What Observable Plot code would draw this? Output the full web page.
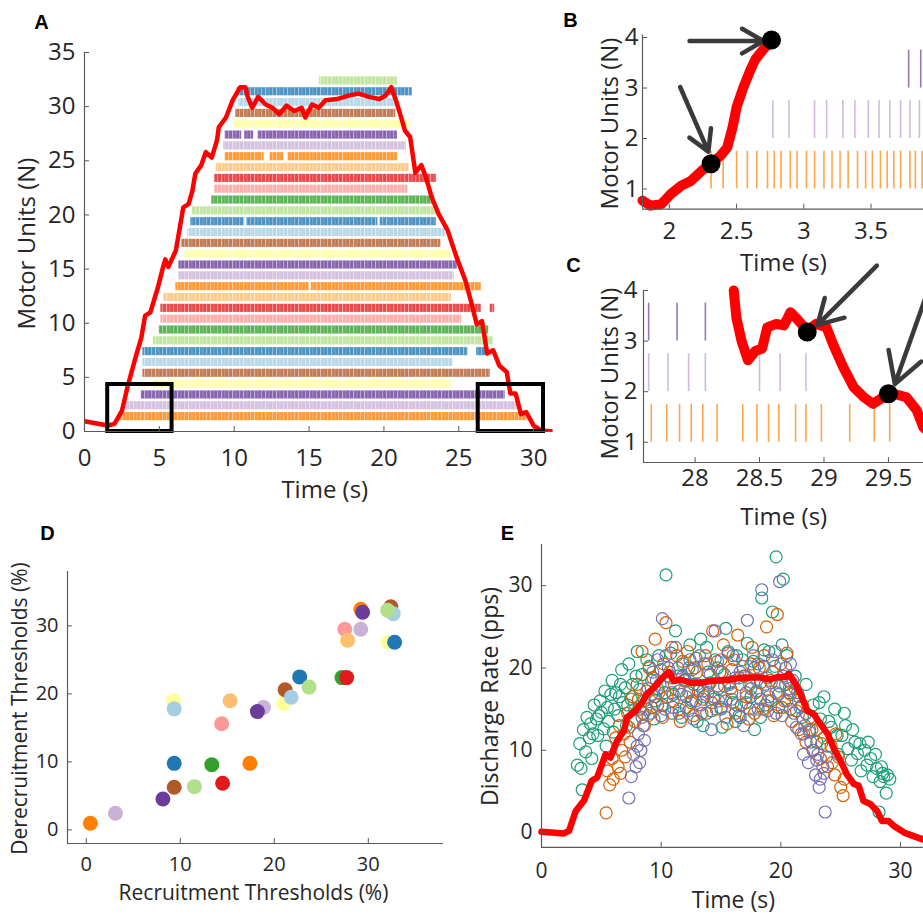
<!DOCTYPE html>
<html><head><meta charset="utf-8">
<script src="https://cdn.jsdelivr.net/npm/d3@7"></script>
<script src="https://cdn.jsdelivr.net/npm/@observablehq/plot@0.6"></script>
<style>
html,body{margin:0;padding:0;background:#fff;}
#fig{position:relative;width:923px;height:915px;overflow:hidden;background:#fff;}
.panel{position:absolute;}
.panel svg{max-width:none !important;}
</style></head><body><div id="fig"></div><script>
// ---------- DATA ----------
const paired = ["#a6cee3","#1f78b4","#b2df8a","#33a02c","#fb9a99","#e31a1c","#fdbf6f","#ff7f00","#cab2d6","#6a3d9a","#ffff99","#b15928"];
// Panel A: motor unit firing spans [unit, start (s), end (s)]
const rasterSegments = [
  [1,2.3,29.55],[2,2.78,28.9],[3,3.8,28.1],[4,4.6,24.5],[5,3.9,27.1],[6,3.9,24.6],
  [7,3.9,25.6],[7,26.2,26.8],[8,4.6,27.3],[9,5.0,27.0],[10,5.1,25.2],[11,5.1,26.5],[11,27.1,27.4],
  [12,5.3,24.5],[13,6.1,15.0],[13,15.15,26.5],[14,6.3,24.7],[15,6.3,24.9],[16,6.7,24.5],
  [17,6.5,23.8],[18,6.9,24.1],[19,7.1,10.7],[19,10.85,19.6],[19,19.75,23.5],[20,7.2,23.5],
  [21,8.5,23.4],[22,8.7,21.6],[23,8.7,23.5],[24,8.8,21.7],[25,9.4,12.0],[25,12.4,13.3],[25,13.6,20.9],
  [26,9.3,21.5],[27,9.4,10.5],[27,10.7,11.3],[27,11.6,20.9],[28,10.0,21.8],[29,10.1,20.8],
  [30,10.3,20.9],[31,10.2,21.9],[32,15.7,20.9]
];
const forceT = [0,1.55,2.0,2.5,2.87,3.35,3.8,4.05,4.4,4.9,5.25,5.4,5.6,6.1,6.45,6.6,6.95,7.2,7.4,7.8,8.1,8.5,8.85,8.97,9.45,9.9,10.4,10.75,10.9,11.2,11.6,12.1,12.55,13.0,13.5,14.0,14.5,14.75,15.2,15.65,16.1,16.85,17.6,18.3,19.0,19.7,20.1,20.5,20.8,21.15,21.4,21.75,22.1,22.5,22.8,23.2,23.65,24.25,24.85,25.45,25.8,26.2,26.55,26.9,27.3,27.7,28.2,28.45,28.8,29.15,29.5,30.0,30.5,31.3];
const forceN = [0.95,0.55,0.7,1.9,4.1,6.55,8.7,10.7,11.0,13.3,15.2,15.9,15.2,16.7,19.5,20.7,21.0,22.2,23.8,24.6,25.8,25.3,26.9,28.1,29.0,30.6,31.8,31.8,30.9,29.9,30.9,30.2,29.9,29.3,30.1,29.6,29.9,29.0,30.2,29.9,30.6,30.7,31.0,31.2,30.9,30.7,31.0,31.8,30.6,29.0,27.8,27.2,23.9,24.6,23.5,21.6,20.1,18.6,16.1,13.9,12.1,9.9,10.2,7.2,7.5,6.1,5.5,3.5,3.5,1.6,1.8,0.55,0.1,0];
const zoomBoxes = [[1.55,5.85,0,4.34],[26.3,30.66,0,4.34]];
const aXTicks = [0,5,10,15,20,25,30];
const aYTicks = [0,5,10,15,20,25,30,35];

// Panel B
const bForceT = [1.80,1.86,1.94,2.01,2.09,2.16,2.24,2.31,2.38,2.43,2.47,2.50,2.55,2.60,2.64,2.71,2.76];
const bForceN = [0.77,0.67,0.70,0.90,1.07,1.16,1.36,1.50,1.66,1.82,2.22,2.62,3.01,3.34,3.57,3.80,3.90];
const bSpikes1 = [2.31,2.40,2.50,2.58,2.65,2.73,2.78,2.83,2.90,2.95,3.02,3.08,3.15,3.21,3.27,3.33,3.40,3.46,3.51,3.57,3.62,3.67,3.72,3.79,3.83,3.88];
const bSpikes2 = [2.77,2.89,3.08,3.17,3.29,3.38,3.48,3.56,3.64,3.72,3.79,3.86];
const bSpikes3 = [3.78,3.87];
const bDots = [[2.31,1.5],[2.76,3.95]];
const bArrows = [[2.08,3.02,2.29,1.74],[2.15,3.93,2.70,3.93]];
const bXTicks = [2,2.5,3,3.5];
const bYTicks = [1,2,3,4];

// Panel C
const cForceT = [28.30,28.32,28.36,28.41,28.47,28.52,28.56,28.63,28.69,28.74,28.79,28.87,28.94,29.02,29.07,29.15,29.23,29.31,29.38,29.46,29.54,29.64,29.72,29.77,29.85];
const cForceN = [4.0,3.47,3.01,2.62,2.81,2.85,3.27,3.34,3.31,3.57,3.44,3.21,3.34,3.27,2.94,2.48,2.09,1.89,1.76,1.89,1.96,1.89,1.63,1.30,1.1];
const cSpikes1 = [27.66,27.78,27.88,27.97,28.06,28.17,28.37,28.48,28.57,28.65,28.78,28.86,28.98,29.20,29.39,29.51];
const cSpikes2 = [27.64,27.79,27.95,28.08,28.50,28.66,28.86];
const cSpikes3 = [27.64,27.86,28.08];
const cDots = [[28.87,3.18],[29.50,1.96]];
const cArrows = [[29.41,4.49,28.95,3.32],[29.82,4.09,29.55,2.15]];
const cXTicks = [28,28.5,29,29.5];
const cYTicks = [1,2,3,4];

// Panel D: recruitment vs derecruitment thresholds (%), unit id gives colour
const dUnit      = [1,2,3,4,5,6,7,8,9,10,11,12,13,14,15,16,17,18,19,20,21,22,23,24,25,26,27,28,29,30,31,32];
const dRecruit   = [0.43,3.1,8.15,9.28,9.35,9.35,9.35,11.5,13.35,14.4,14.5,15.3,17.4,18.85,18.2,21.0,21.15,21.8,22.7,23.7,27.2,27.5,27.7,27.8,29.2,29.2,29.4,32.1,32.4,32.65,32.8,32.05];
const dDerecruit = [0.98,2.45,4.55,19.0,6.27,17.8,9.79,6.36,9.59,15.6,6.85,19.0,9.79,18.0,17.4,18.6,20.6,19.5,22.5,21.0,22.4,29.5,22.4,27.9,32.45,29.5,32.0,27.6,32.8,31.8,27.6,32.3];
const dTicks = [0,10,20,30];

// Panel E: discharge rates (pps) of three units [time s, rate pps] and mean trace
const eGreen = [[3.0,8.2],[3.2,10.8],[3.4,5.2],[3.5,12.5],[3.7,9.8],[3.8,14.0],[4.0,11.5],[4.1,13.2],[4.3,12.0],[4.4,15.5],[4.6,13.8],[4.7,11.8],[4.9,16.0],[5.0,14.6],[5.2,12.6],[5.3,17.2],[5.5,15.2],[5.6,13.5],[5.8,16.8],[5.9,18.5],[6.1,15.0],[6.2,17.0],[6.4,14.2],[6.5,16.5],[6.7,19.8],[6.8,15.8],[7.0,17.6],[7.1,13.0],[7.3,20.5],[7.5,16.2],[7.6,18.0],[7.8,15.0],[8.0,22.0],[8.2,17.4],[8.4,19.2],[8.6,16.0],[8.8,21.0],
  [3.3,7.8],[4.2,9.0],[4.8,14.2],[5.4,10.5],[6.0,12.2],[6.6,18.0],[7.2,15.5],[7.9,19.0],[8.5,14.5],
  [9.2,18.5],[9.5,16.0],[9.8,21.5],[10.1,15.5],[10.4,31.3],[10.6,19.0],[10.9,14.5],[11.2,24.5],[11.5,17.2],[11.8,20.5],[12.1,15.2],[12.4,22.8],[12.7,18.0],[13.0,13.5],[13.3,23.5],[13.6,16.5],[13.9,19.5],[14.2,14.8],[14.5,21.0],[14.8,17.5],[15.1,12.8],[15.4,24.8],[15.7,18.2],[16.0,15.8],[16.3,21.5],[16.6,14.0],[16.9,19.0],[17.2,23.0],[17.5,16.5],[17.8,12.5],[18.1,20.5],[18.4,28.5],[18.7,15.5],[19.0,22.0],[19.3,26.8],[19.6,33.5],[19.9,17.8],[20.2,30.8],[20.5,21.5],[20.8,15.0],
  [9.0,20.2],[9.4,13.8],[9.7,17.5],[10.0,19.8],[10.3,17.0],[10.8,21.8],[11.0,16.8],[11.4,19.0],[11.7,14.0],[12.0,18.6],[12.3,20.0],[12.6,16.0],[12.9,21.2],[13.2,17.8],[13.5,13.0],[13.8,22.5],[14.1,18.2],[14.4,16.2],[14.7,20.0],[15.0,15.0],[15.3,19.2],[15.6,22.0],[15.9,17.0],[16.2,13.5],[16.5,18.8],[16.8,21.0],[17.1,15.8],[17.4,18.0],[17.7,20.8],[18.0,17.2],[18.3,14.0],[18.6,22.2],[18.9,18.8],[19.2,16.0],[19.5,20.2],[19.8,15.2],[20.1,22.8],[20.4,18.0],[20.7,17.0],
  [21.2,19.0],[21.5,16.5],[21.8,14.0],[22.1,18.0],[22.4,12.5],[22.7,15.5],[23.0,11.0],[23.3,13.8],[23.6,16.5],[23.9,10.5],[24.2,12.8],[24.5,15.0],[24.8,9.5],[25.1,11.8],[25.4,13.0],[25.6,10.2],[25.9,8.8],[26.2,11.0],[26.4,9.6],[26.7,7.5],[27.0,10.0],[27.2,8.2],[27.5,9.0],[27.7,6.8],[28.0,7.8],[28.3,6.2],[28.5,7.2],[28.8,4.8],[28.2,2.5],[28.6,6.8],
  [23.2,15.8],[24.0,13.5],[24.7,11.8],[25.3,14.5],[26.0,12.5],[26.6,10.8],[27.3,11.0],[27.9,9.5],[28.4,8.0],[28.9,7.0],[29.1,6.5]];
const eOrange = [[5.4,2.4],[5.5,7.5],[5.7,5.8],[5.9,9.0],[6.0,6.5],[6.2,11.5],[6.4,8.0],[6.5,13.0],[6.7,10.0],[6.9,12.0],[7.0,9.2],[7.2,14.5],[7.4,11.0],[7.6,16.5],[7.8,13.5],[8.0,18.0],[8.2,15.0],[8.4,22.0],[8.6,13.0],[8.8,17.2],[9.0,20.0],[9.2,15.2],[9.5,23.5],[9.8,17.0],[10.1,14.0],[10.4,25.5],[10.7,19.5],[11.0,16.0],[11.3,21.5],[11.6,13.5],[11.9,18.5],[12.2,22.0],[12.5,15.8],[12.8,20.0],[13.1,17.2],[13.4,14.5],[13.7,21.5],[14.0,18.0],[14.3,24.5],[14.6,15.0],[14.9,19.5],[15.2,22.8],[15.5,13.2],[15.8,17.5],[16.1,21.0],[16.4,24.0],[16.7,15.5],[17.0,19.0],[17.3,13.8],[17.6,22.5],[17.9,17.0],[18.2,20.0],[18.5,15.0],[18.8,25.0],[19.1,18.5],[19.4,14.2],[19.7,26.5],[20.0,20.5],[20.3,16.0],[20.6,18.5],[20.9,13.5],[21.2,17.5],[21.5,12.5],[21.8,15.5],[22.1,11.0],[22.4,14.0],[22.7,10.0],[23.0,12.5],[23.3,9.0],[23.6,11.5],[23.9,8.0],[24.2,10.5],[24.5,7.0],[24.8,9.2],[25.0,5.5],[25.2,4.5],[24.6,12.0],
  [9.3,18.8],[9.7,15.5],[10.2,20.5],[10.5,16.5],[10.9,22.5],[11.1,18.0],[11.5,15.0],[11.8,20.8],[12.3,17.0],[12.7,14.2],[13.0,19.5],[13.5,16.2],[13.9,20.5],[14.2,15.8],[14.7,17.8],[15.0,21.0],[15.4,16.0],[15.9,19.8],[16.2,14.5],[16.6,18.0],[17.1,16.5],[17.5,20.5],[17.8,14.5],[18.3,18.2],[18.6,21.5],[18.9,16.0],[19.3,19.5],[19.6,17.0],[20.1,15.2],[20.5,21.8],[20.8,16.8],[21.3,14.8],[21.9,12.0],[22.6,12.5],[23.4,10.8],[24.3,8.5],[25.3,6.5],[6.6,7.2],[7.3,12.8],[8.1,16.2],[8.9,14.2]];
const ePurple = [[7.3,4.2],[7.5,6.8],[7.7,9.5],[7.9,8.0],[8.1,12.0],[8.3,10.0],[8.5,13.0],[8.2,8.5],[8.7,15.0],[8.9,17.5],[9.1,14.5],[9.3,19.5],[9.5,16.5],[9.7,21.0],[9.9,18.0],[10.1,26.0],[10.3,15.0],[10.6,20.0],[10.9,17.0],[11.2,22.5],[11.5,14.5],[11.8,19.0],[12.1,16.5],[12.4,21.0],[12.7,13.8],[13.0,18.0],[13.3,15.5],[13.6,20.5],[13.9,17.0],[14.2,12.5],[14.5,24.5],[14.8,16.0],[15.1,19.5],[15.4,14.0],[15.7,18.0],[16.0,21.5],[16.3,15.5],[16.6,19.5],[16.9,13.0],[17.2,25.8],[17.5,17.5],[17.8,20.0],[18.1,15.0],[18.4,29.5],[18.7,18.0],[19.0,16.5],[19.3,21.0],[19.6,14.5],[19.9,30.5],[20.2,19.0],[20.5,16.0],[20.8,20.5],[21.1,14.5],[21.4,17.0],[21.7,12.0],[21.9,9.5],[22.1,14.5],[22.3,8.5],[22.5,11.0],[22.7,10.0],[22.9,7.0],[23.1,9.5],[23.3,6.5],[23.5,8.0],[23.7,2.5],[23.2,5.5],[22.0,13.0],
  [9.2,16.8],[9.6,18.5],[10.0,14.2],[10.4,21.5],[10.8,18.8],[11.0,15.2],[11.4,20.0],[11.7,16.8],[12.0,18.5],[12.3,14.8],[12.6,19.8],[12.9,16.0],[13.2,21.5],[13.5,17.2],[13.8,14.5],[14.1,19.2],[14.4,16.5],[14.7,20.8],[15.0,15.2],[15.3,17.8],[15.6,21.8],[15.9,16.2],[16.2,18.8],[16.5,14.2],[16.8,20.2],[17.1,17.0],[17.4,15.0],[17.7,21.5],[18.0,18.5],[18.3,16.2],[18.6,20.2],[18.9,14.8],[19.2,18.2],[19.5,22.0],[19.8,16.8],[20.1,14.2],[20.4,20.0],[20.7,17.5],[21.0,18.5],[21.3,12.8],[21.6,15.2],[22.4,12.2],[23.0,8.8],[23.6,7.2],[8.0,10.5],[8.6,11.2],[8.4,14.0],[23.8,9.2]];
const eMeanT = [0,1.87,2.3,2.85,3.55,4.2,4.65,5.35,5.75,6.3,6.9,7.15,7.85,8.4,8.8,9.4,10.1,10.65,11.05,11.6,12.45,13.3,14.1,14.95,15.8,16.6,17.45,18.3,19.1,19.7,20.4,20.65,21.1,21.65,22.2,22.75,23.3,23.9,24.4,25.0,25.5,26.1,26.5,26.9,27.5,28.05,28.45,29.0,29.45,30.3,31.9];
const eMeanV = [0.1,-0.1,0.2,2.6,3.9,6.3,6.7,9.5,9.1,11.1,12.4,14.0,14.8,15.8,16.8,17.6,18.8,19.5,18.4,18.6,18.2,18.2,18.4,18.5,18.6,18.8,18.85,18.85,18.6,18.9,18.9,19.3,18.4,16.8,14.8,14.4,13.2,12.0,10.3,8.7,7.1,5.9,5.7,3.85,3.45,2.6,1.4,1.4,0.8,0,-0.85];
const eTicks = [0,10,20,30];
const eColors = {green:"#1b9e77", orange:"#d95f02", purple:"#7570b3"};

// ---------- STYLE / HELPERS ----------
const FONT = "'Open Sans', sans-serif";
const LETTER_FONT = "'Liberation Sans', Arial, sans-serif";
const AXC = "#5a5a5a", TXT = "#262626";
const fig = document.getElementById("fig");
const unitColor = u => paired[(6 + u) % 12];
const RED = "#ff0000";
const fmt = d3.format("~g");

function place(plot, left, top, w) {
  const d = document.createElement("div");
  d.className = "panel"; d.style.left = left + "px"; d.style.top = top + "px"; d.style.width = w + "px";
  d.appendChild(plot); fig.appendChild(d);
}
function axes(xDom, yDom, xTicks, yTicks, fs, xPad, yPad) {
  return [
    Plot.ruleY([yDom[0]], {stroke: AXC, strokeWidth: 1.2}),
    Plot.ruleX([xDom[0]], {stroke: AXC, strokeWidth: 1.2}),
    Plot.axisX(xTicks, {anchor: "bottom", tickSize: -5, tickPadding: xPad, label: null, fontSize: fs, stroke: AXC, fill: TXT, tickFormat: fmt}),
    Plot.axisY(yTicks, {anchor: "left", tickSize: -5, tickPadding: yPad, label: null, fontSize: fs, stroke: AXC, fill: TXT, tickFormat: fmt})
  ];
}
function xLabel(t, fs, dx, dy) {
  return Plot.text([t], {text: d => d, frameAnchor: "bottom", dx, dy, fontSize: fs, fill: TXT, textAnchor: "middle", lineAnchor: "middle"});
}
function yLabel(t, fs, dx, dy) {
  return Plot.text([t], {text: d => d, frameAnchor: "left", dx, dy, rotate: -90, fontSize: fs, fill: TXT, textAnchor: "middle", lineAnchor: "middle"});
}
function letter(t, dx, dy) {
  return Plot.text([t], {text: d => d, frameAnchor: "top-left", dx, dy, fontSize: 20, fontWeight: "bold", fontFamily: LETTER_FONT, fill: "#000", textAnchor: "middle", lineAnchor: "middle"});
}
function spikes(times, unit, col, op) {
  return Plot.ruleX(times, {x: d => d, y1: unit, y2: unit + 0.75, stroke: col, strokeWidth: 1.6, strokeOpacity: op});
}
// texture that makes each firing band read as a train of individual spikes
function spikeTexture() {
  const defs = document.createElementNS("http://www.w3.org/2000/svg", "defs");
  defs.innerHTML = '<pattern id="spikeTex" width="11" height="12" patternUnits="userSpaceOnUse">' +
    '<rect x="1" y="0" width="1.1" height="12" fill="white" fill-opacity="0.5"/>' +
    '<rect x="4.6" y="0" width="0.7" height="12" fill="white" fill-opacity="0.35"/>' +
    '<rect x="8.2" y="0" width="0.9" height="12" fill="white" fill-opacity="0.45"/></pattern>';
  return defs;
}
const baseStyle = {fontFamily: FONT, fontSize: "24px", color: TXT, background: "transparent", overflow: "visible", maxWidth: "none"};

// ---------- PANEL A ----------
const aX = [0, 31.3], aY = [0, 35];
place(Plot.plot({
  width: 560, height: 501, marginLeft: 84, marginRight: 7.4, marginTop: 52, marginBottom: 70,
  style: baseStyle,
  x: {domain: aX}, y: {domain: aY}, color: {type: "identity"},
  marks: [
    spikeTexture,
    Plot.rect(rasterSegments, {x1: d => d[1], x2: d => d[2], y1: d => d[0], y2: d => d[0] + 0.75, fill: d => unitColor(d[0]), fillOpacity: 0.8}),
    Plot.rect(rasterSegments, {x1: d => d[1], x2: d => d[2], y1: d => d[0], y2: d => d[0] + 0.75, fill: "url(#spikeTex)"}),
    Plot.line(forceT, {x: forceT, y: forceN, stroke: RED, strokeWidth: 4.5, strokeLinejoin: "round", clip: true}),
    Plot.rect(zoomBoxes, {x1: d => d[0], x2: d => d[1], y1: d => d[2], y2: d => d[3], fill: "none", stroke: "#000", strokeWidth: 4}),
    ...axes(aX, aY, aXTicks, aYTicks, 24, 22.4, 14),
    xLabel("Time (s)", 24, 6, 59),
    yLabel("Motor Units (N)", 24, -57, 1.5),
    letter("A", -43, -30)
  ]
}), 0, 0, 560);

// ---------- PANEL B ----------
const bX = [1.8, 4.0], bY = [0.6, 4.05];
place(Plot.plot({
  width: 380, height: 269, marginLeft: 82, marginRight: 2.3, marginTop: 34.5, marginBottom: 60.3,
  style: baseStyle, x: {domain: bX}, y: {domain: bY},
  marks: [
    spikes(bSpikes1, 1, "#ff7f00", 0.7),
    spikes(bSpikes2, 2, "#cab2d6", 0.9),
    spikes(bSpikes3, 3, "#6a3d9a", 0.7),
    Plot.line(bForceT, {x: bForceT, y: bForceN, stroke: RED, strokeWidth: 10, strokeLinecap: "round", strokeLinejoin: "round"}),
    Plot.arrow(bArrows, {x1: d => d[0], y1: d => d[1], x2: d => d[2], y2: d => d[3], stroke: "#3a3a3a", strokeWidth: 4.5, headLength: 16}),
    Plot.dot(bDots, {x: d => d[0], y: d => d[1], r: 9.5, fill: "#000"}),
    ...axes(bX, bY, bXTicks, bYTicks, 24, 17.7, 9),
    xLabel("Time (s)", 24, -7, 54),
    yLabel("Motor Units (N)", 24, -32, 1.4),
    letter("B", -72, -14.5)
  ]
}), 560, 0, 380);

// ---------- PANEL C ----------
const cX = [27.6, 29.9], cY = [0.6, 4.0];
place(Plot.plot({
  width: 380, height: 282, marginLeft: 83, marginRight: 0.5, marginTop: 40, marginBottom: 70,
  style: baseStyle, x: {domain: cX}, y: {domain: cY},
  marks: [
    spikes(cSpikes1, 1, "#ff7f00", 0.7),
    spikes(cSpikes2, 2, "#cab2d6", 0.9),
    spikes(cSpikes3, 3, "#6a3d9a", 0.7),
    Plot.line(cForceT, {x: cForceT, y: cForceN, stroke: RED, strokeWidth: 10, strokeLinecap: "round", strokeLinejoin: "round"}),
    Plot.arrow(cArrows, {x1: d => d[0], y1: d => d[1], x2: d => d[2], y2: d => d[3], stroke: "#3a3a3a", strokeWidth: 4.5, headLength: 16}),
    Plot.dot(cDots, {x: d => d[0], y: d => d[1], r: 9.5, fill: "#000"}),
    ...axes(cX, cY, cXTicks, cYTicks, 24, 11.4, 11),
    xLabel("Time (s)", 24, -8, 55),
    yLabel("Motor Units (N)", 24, -33, -3),
    letter("C", -70, -25)
  ]
}), 560, 250, 380);

// ---------- PANEL D ----------
const dX = [-2, 38], dY = [-2, 38];
place(Plot.plot({
  width: 460, height: 395, marginLeft: 67, marginRight: 17, marginTop: 51, marginBottom: 72,
  style: {...baseStyle, fontSize: "20px"}, x: {domain: dX}, y: {domain: dY}, color: {type: "identity"},
  marks: [
    Plot.dot(dUnit, {x: dRecruit, y: dDerecruit, r: 7.5, fill: dUnit.map(unitColor)}),
    ...axes(dX, dY, dTicks, dTicks, 20, 17.9, 14),
    xLabel("Recruitment Thresholds (%)", 21, -2, 50),
    yLabel("Derecruitment Thresholds (%)", 21, -47, 1),
    letter("D", -20, -38)
  ]
}), 0, 520, 460);

// ---------- PANEL E ----------
const eX = [0, 31.9], eY = [-1.8, 35];
place(Plot.plot({
  width: 463, height: 395, marginLeft: 81, marginRight: 0.2, marginTop: 24, marginBottom: 68.1,
  style: {...baseStyle, fontSize: "21px"}, x: {domain: eX}, y: {domain: eY},
  marks: [
    Plot.dot(eGreen, {x: d => d[0], y: d => d[1], r: 6, stroke: eColors.green, strokeWidth: 1.2, fill: "none"}),
    Plot.dot(eOrange, {x: d => d[0], y: d => d[1], r: 6, stroke: eColors.orange, strokeWidth: 1.2, fill: "none"}),
    Plot.dot(ePurple, {x: d => d[0], y: d => d[1], r: 6, stroke: eColors.purple, strokeWidth: 1.2, fill: "none"}),
    Plot.line(eMeanT, {x: eMeanT, y: eMeanV, stroke: RED, strokeWidth: 6.5, strokeLinejoin: "round"}),
    ...axes(eX, eY, eTicks, eTicks, 21, 20.5, 14),
    xLabel("Time (s)", 23, 1, 53),
    yLabel("Discharge Rate (pps)", 23, -51, 0.5),
    letter("E", -34, -11)
  ]
}), 460, 520, 463);
</script></body></html>
